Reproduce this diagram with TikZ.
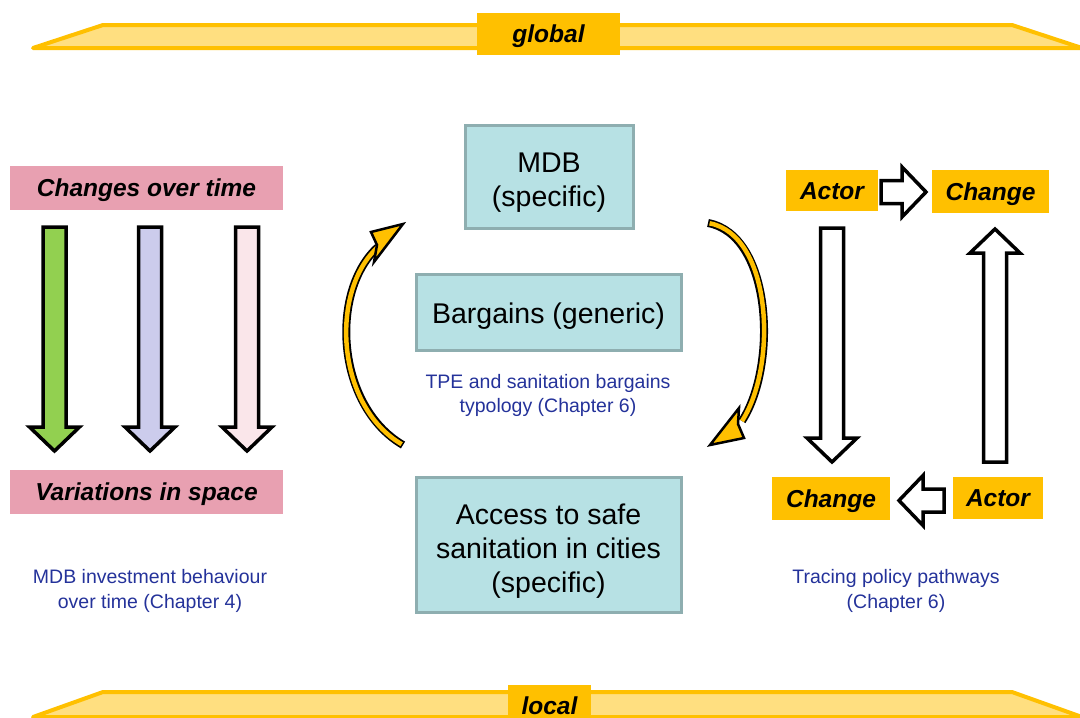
\documentclass[tikz,border=0pt]{standalone}
\usepackage{fontspec}
\setmainfont{Liberation Sans}
\usetikzlibrary{calc}
\definecolor{gold}{HTML}{FFC000}
\definecolor{paleband}{HTML}{FFDF80}
\definecolor{rosefill}{HTML}{E8A0B1}
\definecolor{boxfill}{HTML}{B7E1E4}
\definecolor{boxline}{HTML}{8EAEB0}
\definecolor{notecol}{HTML}{24329A}
\definecolor{greenarr}{HTML}{92D050}
\definecolor{lilacarr}{HTML}{CCCCEC}
\definecolor{pinkarr}{HTML}{FAE6EA}
\tikzset{
  band/.style={draw=gold, fill=paleband, line width=4pt, line join=round},
  tag/.style={fill=gold, inner sep=0pt, text height=17.5pt, text depth=-3pt, font=\bfseries\itshape\fontsize{24.5}{29}\selectfont},
  rosetag/.style={tag, fill=rosefill, minimum width=273pt, minimum height=44pt},
  mainbox/.style={draw=boxline, fill=boxfill, line width=3pt, inner sep=0pt, align=center, font=\fontsize{28.5}{34}\selectfont},
  note/.style={text=notecol, align=center, text depth=0pt, font=\fontsize{19.5}{24.5}\selectfont},
  blockarr/.style={draw=black, line width=3.5pt, line join=miter},
  curvecase/.style={draw=black, line width=8pt},
  curvecore/.style={draw=gold, line width=4.5pt, shorten <=1.6pt},
  curvehead/.style={draw=black, fill=gold, line width=2.5pt, line join=miter}
}
\newcommand{\blockarrow}[3]{%
  \coordinate (hb) at ($(#3)!24pt!(#2)$);
  \draw[blockarr,#1] ($(#2)!11.5pt!90:(#3)$) -- ($(hb)!11.5pt!90:(#3)$) -- ($(hb)!25pt!90:(#3)$) -- (#3)
    -- ($(hb)!25pt!-90:(#3)$) -- ($(hb)!11.5pt!-90:(#3)$) -- ($(#2)!11.5pt!-90:(#3)$) -- cycle;}
\begin{document}
\begin{tikzpicture}[x=1pt,y=-1pt]
  \useasboundingbox (0,0) rectangle (1080,718);
  \draw[band] (33,48) -- (103,25) -- (1012,25) -- (1082,48) -- cycle;
  \node[tag, minimum width=143pt, minimum height=42pt] (glob) at (548.5,34) {global};
  \draw[band] (33,717) -- (103,692) -- (1012,692) -- (1082,717) -- cycle;
  \node[tag, minimum width=83pt, minimum height=42pt] (loc) at (549.5,706) {local};

  \node[rosetag] (time) at (146.5,188) {Changes over time};
  \node[rosetag] (space) at (146.5,491.5) {Variations in space};
  \coordinate (g0) at (54.5,227); \coordinate (g1) at (54.5,451);
  \coordinate (l0) at (150,227); \coordinate (l1) at (150,451);
  \coordinate (p0) at (247,227); \coordinate (p1) at (247,451);
  \blockarrow{fill=greenarr}{g0}{g1}
  \blockarrow{fill=lilacarr}{l0}{l1}
  \blockarrow{fill=pinkarr}{p0}{p1}
  \node[note] (invest) at (150,589) {MDB investment behaviour\\over time (Chapter 4)};

  \node[mainbox, minimum width=168pt, minimum height=103pt, text height=66.5pt] (mdb) at (549,176.5) {MDB\\(specific)};
  \node[mainbox, minimum width=265pt, minimum height=76pt, text height=28.5pt] (barg) at (548.5,312) {Bargains (generic)};
  \node[note] (typo) at (548,393.5) {TPE and sanitation bargains\\typology (Chapter 6)};
  \node[mainbox, minimum width=265pt, minimum height=135pt, text height=102.5pt] (acc) at (548.5,544.5) {Access to safe\\sanitation in cities\\(specific)};

  \coordinate (lc0) at (403,445); \coordinate (lc1) at (378,247);
  \draw[curvecase] (lc0) .. controls (335,405) and (330,290) .. (lc1);
  \draw[curvecore] (lc0) .. controls (335,405) and (330,290) .. (lc1);
  \draw[curvehead] (403,224) -- (371,232) -- (377,245) -- (374,262) -- cycle;
  \coordinate (rc0) at (708,223); \coordinate (rc1) at (742,421);
  \draw[curvecase] (rc0) .. controls (772,235) and (778,365) .. (rc1);
  \draw[curvecore] (rc0) .. controls (772,235) and (778,365) .. (rc1);
  \draw[curvehead] (710,445) -- (739,408) -- (738,424) -- (744,438) -- cycle;

  \node[tag, minimum width=92pt, minimum height=41pt] (actA) at (832,190.5) {Actor};
  \node[tag, minimum width=117pt, minimum height=43pt] (chgA) at (990.5,191.5) {Change};
  \node[tag, minimum width=118pt, minimum height=43pt] (chgB) at (831,498.5) {Change};
  \node[tag, minimum width=90pt, minimum height=42pt] (actB) at (998,498) {Actor};
  \coordinate (r0) at (881,192); \coordinate (r1) at (926,192);
  \coordinate (d0) at (832,228); \coordinate (d1) at (832,462);
  \coordinate (u0) at (995,462); \coordinate (u1) at (995,229);
  \coordinate (b0) at (944,500.5); \coordinate (b1) at (899,500.5);
  \blockarrow{fill=white}{r0}{r1}
  \blockarrow{fill=white}{d0}{d1}
  \blockarrow{fill=white}{u0}{u1}
  \blockarrow{fill=white}{b0}{b1}
  \node[note] (trace) at (896,589) {Tracing policy pathways\\(Chapter 6)};
\end{tikzpicture}
\end{document}
